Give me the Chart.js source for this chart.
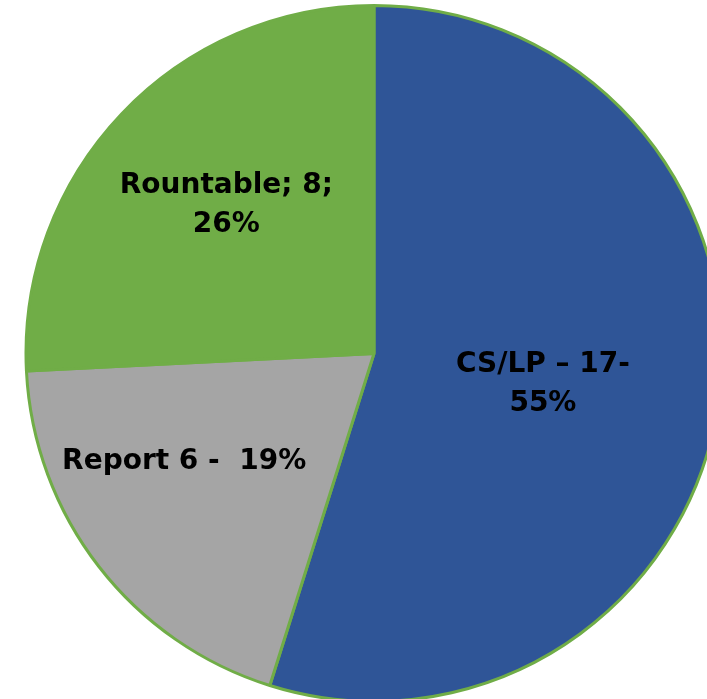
<!DOCTYPE html>
<html lang="en">
<head>
  <meta charset="UTF-8">
  <title>Pie</title>
  <script src="https://cdn.jsdelivr.net/npm/chart.js"></script>
  <style>
    html, body { margin: 0; padding: 0; background: #fff; overflow: hidden; width: 707px; height: 699px; }
    #pie { position: absolute; left: 0; top: 4px; }
  </style>
</head>
<body>
  <canvas id="pie" width="748" height="699"></canvas>

  <script>
    // chart data
    const categories = ['CS/LP', 'Report', 'Rountable'];
    const counts = [17, 6, 8];
    const sliceLabels = [
      ['CS/LP \u2013 17-', '55%'],
      ['Report 6 -  19%'],
      ['Rountable; 8;', '26%']
    ];
    const sliceColors = ['#2F5597', '#A5A5A5', '#70AD47'];

    // label placement: fraction of radius from centre, and angle nudge (deg) from slice middle
    const labelRadius = [0.492, 0.624, 0.606];
    const labelNudge = [0.7, 8.7, 2];

    const labelPlugin = {
      id: 'sliceLabels',
      afterDatasetsDraw(chart) {
        const ctx = chart.ctx;
        const meta = chart.getDatasetMeta(0);
        ctx.save();
        ctx.fillStyle = '#000';
        ctx.font = 'bold 28px "DejaVu Sans"';
        ctx.textAlign = 'center';
        ctx.textBaseline = 'alphabetic';
        meta.data.forEach((arc, i) => {
          const p = arc.getProps(['x', 'y', 'startAngle', 'endAngle', 'outerRadius'], true);
          const mid = (p.startAngle + p.endAngle) / 2 + labelNudge[i] * Math.PI / 180;
          const r = p.outerRadius * labelRadius[i];
          const cx = p.x + Math.cos(mid) * r;
          const cy = p.y + Math.sin(mid) * r;
          const lines = sliceLabels[i];
          const lh = 39;
          const first = cy - (lines.length - 1) * lh / 2 + 10;
          lines.forEach((t, j) => ctx.fillText(t, cx, first + j * lh));
        });
        ctx.restore();
      }
    };

    new Chart(document.getElementById('pie'), {
      type: 'pie',
      data: {
        labels: categories,
        datasets: [{
          data: counts,
          backgroundColor: sliceColors,
          borderColor: '#70AD47',
          borderWidth: 3,
          hoverOffset: 0
        }]
      },
      options: {
        responsive: false,
        animation: false,
        layout: { padding: 0 },
        plugins: {
          legend: { display: false },
          tooltip: { enabled: false }
        }
      },
      plugins: [labelPlugin]
    });
  </script>
</body>
</html>
